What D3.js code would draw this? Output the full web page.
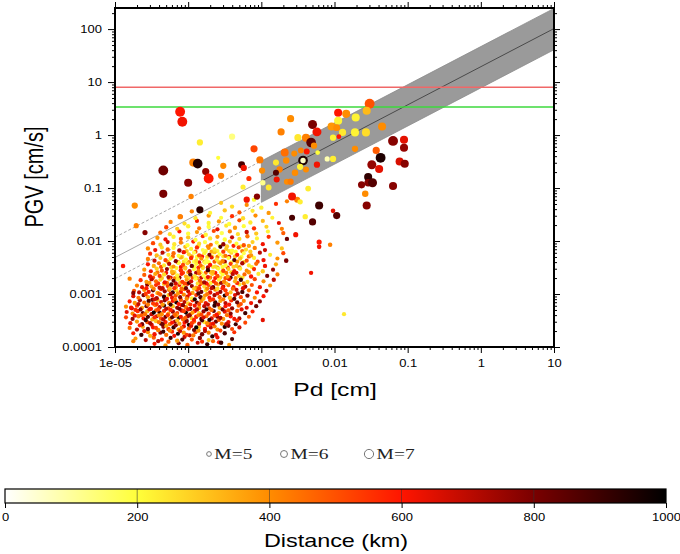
<!DOCTYPE html>
<html>
<head>
<meta charset="utf-8">
<script src="https://cdn.jsdelivr.net/npm/d3@7"></script>
<style>
  body { margin: 0; background: #fff; }
  svg { display: block; }
</style>
</head>
<body>
<script>
// Axis ticks
var pdTicks = [1e-5, 1e-4, 1e-3, 1e-2, 1e-1, 1, 10];
var pdTickLabels = ["1e-05", "0.0001", "0.001", "0.01", "0.1", "1", "10"];
var pgvTicks = [1e-4, 1e-3, 1e-2, 1e-1, 1, 10, 100];
var pgvTickLabels = ["0.0001", "0.001", "0.01", "0.1", "1", "10", "100"];
var distTicks = [0, 200, 400, 600, 800, 1000];
var magLegend = [5, 6, 7];

// log10(PGV) = fitA + fitB * log10(Pd), band in log units
var fitA = 1.29, fitB = 0.72, bandUp = 0.38, bandDown = 0.40;
var fitFrom = 1e-5, bandFrom = 1e-3, fitTo = 10;
// alert levels of PGV (cm/s): red, green
var thresholdValues = [8.0, 3.4];

// events: [log10 Pd, log10 PGV, distance km, magnitude]
var cloudLow = [
  [-4.46,-3.94,580,4.4],[-4.31,-3.97,380,4.6],[-4.13,-3.93,780,4.4],[-4.01,-3.96,480,4.7],[-3.87,-3.92,680,4.3],[-3.74,-3.95,900,4.5],[-3.58,-3.91,600,4.4],[-3.44,-3.96,380,4.3],[-3.55,-3.92,900,4.8],
  [-4.72,-3.84,380,4.3],[-4.58,-3.87,700,4.5],[-4.47,-3.82,480,4.6],[-4.36,-3.86,580,4.4],[-4.24,-3.83,900,4.5],[-4.15,-3.88,380,4.7],[-4.05,-3.81,680,4.4],[-3.95,-3.86,500,4.5],[-3.84,-3.83,780,4.6],[-3.72,-3.87,300,4.3],[-3.6,-3.82,620,4.5],[-3.4,-3.85,880,4.4],
  [-4.75,-3.74,580,4.4],[-4.64,-3.77,900,4.6],[-4.55,-3.72,400,4.5],[-4.46,-3.76,620,4.7],[-4.38,-3.73,780,4.4],[-4.3,-3.77,450,4.6],[-4.22,-3.71,560,4.5],[-4.14,-3.75,950,4.4],[-4.06,-3.73,380,4.6],[-3.98,-3.78,700,4.5],[-3.9,-3.72,520,4.4],[-3.81,-3.76,820,4.7],[-3.72,-3.73,420,4.4],[-3.62,-3.77,640,4.5],[-3.5,-3.74,880,4.6],[-3.37,-3.72,560,4.3],
  [-4.8,-3.64,450,4.4],[-4.7,-3.67,700,4.5],[-4.62,-3.62,350,4.4],[-4.55,-3.66,850,4.6],[-4.48,-3.63,600,4.5],[-4.41,-3.68,420,4.7],[-4.34,-3.62,760,4.4],[-4.27,-3.66,540,4.6],[-4.2,-3.63,920,4.5],[-4.13,-3.67,380,4.4],[-4.06,-3.61,640,4.6],[-3.99,-3.65,480,4.5],[-3.92,-3.68,820,4.4],[-3.85,-3.62,280,4.5],[-3.77,-3.66,600,4.7],[-3.69,-3.63,720,4.4],[-3.6,-3.67,400,4.5],[-3.5,-3.62,950,4.6],[-3.4,-3.66,520,4.4],[-3.3,-3.63,680,4.5],
  [-4.79,-3.55,620,4.5],[-4.7,-3.52,380,4.4],[-4.63,-3.57,800,4.6],[-4.56,-3.53,500,4.4],[-4.5,-3.58,660,4.5],[-4.44,-3.51,300,4.6],[-4.37,-3.56,900,4.4],[-4.31,-3.53,580,4.7],[-4.25,-3.57,440,4.5],[-4.18,-3.52,740,4.4],[-4.12,-3.56,360,4.6],[-4.05,-3.54,600,4.5],[-3.99,-3.58,980,4.4],[-3.92,-3.52,460,4.6],[-3.85,-3.56,700,4.5],[-3.78,-3.53,240,4.4],[-3.7,-3.57,560,4.6],[-3.62,-3.52,820,4.5],[-3.54,-3.56,400,4.4],[-3.45,-3.53,640,4.7],[-3.35,-3.57,900,4.4],[-3.22,-3.54,520,4.3],
  [-4.85,-3.44,520,4.4],[-4.76,-3.47,760,4.5],[-4.68,-3.42,420,4.6],[-4.61,-3.46,600,4.4],[-4.55,-3.43,880,4.5],[-4.49,-3.48,340,4.6],[-4.43,-3.42,680,4.5],[-4.37,-3.46,500,4.7],[-4.31,-3.43,820,4.4],[-4.25,-3.47,400,4.5],[-4.19,-3.41,620,4.6],[-4.13,-3.45,940,4.4],[-4.07,-3.48,460,4.5],[-4.01,-3.42,720,4.6],[-3.95,-3.46,300,4.4],[-3.89,-3.43,580,4.7],[-3.82,-3.47,860,4.5],[-3.75,-3.42,440,4.4],[-3.68,-3.46,660,4.6],[-3.6,-3.43,780,4.5],[-3.52,-3.47,380,4.4],[-3.42,-3.42,600,4.6],[-3.3,-3.46,720,4.4],[-3.17,-3.43,480,4.3],
  [-4.84,-3.34,640,4.4],[-4.76,-3.37,400,4.5],[-4.69,-3.32,560,4.6],[-4.62,-3.36,820,4.4],[-4.56,-3.33,320,4.5],[-4.5,-3.38,700,4.7],[-4.44,-3.31,480,4.4],[-4.39,-3.35,900,4.6],[-4.33,-3.32,560,4.5],[-4.27,-3.37,380,4.4],[-4.21,-3.33,740,4.6],[-4.15,-3.36,520,4.5],[-4.09,-3.31,640,4.7],[-4.03,-3.35,960,4.4],[-3.97,-3.38,420,4.5],[-3.91,-3.32,600,4.6],[-3.85,-3.36,260,4.4],[-3.79,-3.33,760,4.5],[-3.72,-3.37,540,4.6],[-3.65,-3.32,860,4.4],[-3.58,-3.36,400,4.5],[-3.5,-3.33,640,4.7],[-3.42,-3.37,780,4.4],[-3.33,-3.32,480,4.5],[-3.22,-3.36,900,4.6],[-3.12,-3.33,580,4.4],
  [-4.85,-3.24,400,4.5],[-4.77,-3.27,700,4.4],[-4.7,-3.22,520,4.6],[-4.63,-3.26,360,4.5],[-4.57,-3.23,800,4.4],[-4.51,-3.28,600,4.7],[-4.45,-3.21,420,4.5],[-4.39,-3.25,680,4.6],[-4.33,-3.22,940,4.4],[-4.27,-3.27,500,4.5],[-4.21,-3.23,300,4.6],[-4.15,-3.26,760,4.5],[-4.09,-3.21,580,4.4],[-4.03,-3.25,440,4.7],[-3.97,-3.28,840,4.5],[-3.91,-3.22,620,4.4],[-3.85,-3.26,380,4.6],[-3.78,-3.23,700,4.5],[-3.71,-3.27,500,4.4],[-3.64,-3.22,920,4.6],[-3.57,-3.26,340,4.5],[-3.49,-3.23,600,4.4],[-3.4,-3.27,760,4.6],[-3.31,-3.22,460,4.5],[-3.2,-3.26,640,4.4],[-3.07,-3.23,820,4.5],
  [-4.8,-3.14,580,4.4],[-4.73,-3.17,380,4.6],[-4.66,-3.12,720,4.5],[-4.6,-3.16,460,4.4],[-4.54,-3.13,880,4.6],[-4.48,-3.18,540,4.5],[-4.42,-3.11,320,4.7],[-4.37,-3.15,660,4.4],[-4.32,-3.12,780,4.5],[-4.26,-3.17,420,4.6],[-4.21,-3.13,600,4.4],[-4.16,-3.16,960,4.5],[-4.1,-3.11,480,4.6],[-4.05,-3.15,700,4.4],[-4.0,-3.18,280,4.7],[-3.94,-3.12,560,4.5],[-3.88,-3.16,820,4.4],[-3.82,-3.13,400,4.6],[-3.76,-3.17,640,4.5],[-3.7,-3.12,500,4.4],[-3.63,-3.16,900,4.6],[-3.56,-3.13,360,4.5],[-3.49,-3.17,700,4.4],[-3.41,-3.12,560,4.6],[-3.33,-3.16,820,4.5],[-3.24,-3.13,420,4.4],[-3.14,-3.17,620,4.5],[-3.02,-3.14,760,4.4],
  [-4.75,-3.04,660,4.5],[-4.68,-3.07,440,4.4],[-4.61,-3.02,800,4.6],[-4.55,-3.06,360,4.5],[-4.49,-3.03,580,4.4],[-4.43,-3.08,720,4.6],[-4.38,-3.01,480,4.5],[-4.33,-3.05,920,4.7],[-4.27,-3.02,300,4.4],[-4.22,-3.07,620,4.5],[-4.17,-3.03,500,4.6],[-4.11,-3.06,780,4.4],[-4.06,-3.01,400,4.5],[-4.01,-3.05,660,4.6],[-3.95,-3.08,220,4.4],[-3.89,-3.02,540,4.5],[-3.83,-3.06,860,4.7],[-3.77,-3.03,380,4.4],[-3.71,-3.07,600,4.5],[-3.64,-3.02,740,4.6],[-3.57,-3.06,460,4.4],[-3.5,-3.03,940,4.5],[-3.43,-3.07,320,4.6],[-3.36,-3.02,640,4.4],[-3.28,-3.06,520,4.5],[-3.19,-3.03,800,4.6],[-3.09,-3.07,400,4.4],[-2.97,-3.04,600,4.5],
  [-4.74,-2.94,500,4.5],[-4.67,-2.97,700,4.4],[-4.6,-2.92,400,4.6],[-4.54,-2.96,620,4.5],[-4.48,-2.93,860,4.4],[-4.42,-2.98,340,4.6],[-4.37,-2.91,560,4.5],[-4.32,-2.95,740,4.4],[-4.26,-2.92,440,4.7],[-4.21,-2.97,900,4.5],[-4.16,-2.93,260,4.4],[-4.1,-2.96,600,4.6],[-4.05,-2.91,480,4.5],[-4.0,-2.95,700,4.4],[-3.94,-2.98,360,4.6],[-3.88,-2.92,560,4.5],[-3.82,-2.96,820,4.4],[-3.76,-2.93,240,4.5],[-3.7,-2.97,640,4.7],[-3.63,-2.92,420,4.4],[-3.56,-2.96,760,4.5],[-3.49,-2.93,540,4.6],[-3.42,-2.97,300,4.4],[-3.34,-2.92,680,4.5],[-3.26,-2.96,880,4.6],[-3.17,-2.93,460,4.4],[-3.06,-2.97,600,4.5],[-2.93,-2.94,720,4.4],
  [-4.7,-2.84,420,4.5],[-4.63,-2.87,640,4.4],[-4.56,-2.82,780,4.6],[-4.5,-2.86,360,4.5],[-4.44,-2.83,560,4.4],[-4.39,-2.88,700,4.6],[-4.33,-2.81,300,4.5],[-4.28,-2.85,520,4.4],[-4.23,-2.82,880,4.7],[-4.17,-2.87,440,4.5],[-4.12,-2.83,620,4.4],[-4.06,-2.86,220,4.6],[-4.01,-2.81,560,4.5],[-3.95,-2.85,760,4.4],[-3.89,-2.88,380,4.6],[-3.84,-2.82,600,4.5],[-3.78,-2.86,260,4.4],[-3.72,-2.83,500,4.5],[-3.66,-2.87,840,4.7],[-3.59,-2.82,320,4.4],[-3.52,-2.86,660,4.5],[-3.45,-2.83,420,4.6],[-3.38,-2.87,580,4.4],[-3.3,-2.82,240,4.5],[-3.22,-2.86,720,4.6],[-3.13,-2.83,500,4.4],[-3.02,-2.87,620,4.5],[-2.88,-2.84,380,4.4]
];

var cloudHigh = [
  [-4.65,-2.74,560,4.5],[-4.57,-2.77,380,4.4],[-4.5,-2.72,700,4.6],[-4.44,-2.76,460,4.5],[-4.38,-2.73,280,4.4],[-4.32,-2.78,620,4.6],[-4.26,-2.71,400,4.5],[-4.2,-2.75,820,4.4],[-4.14,-2.72,240,4.7],[-4.08,-2.77,540,4.5],[-4.02,-2.73,360,4.4],[-3.96,-2.76,660,4.6],[-3.9,-2.71,200,4.5],[-3.84,-2.75,480,4.4],[-3.78,-2.78,740,4.6],[-3.72,-2.72,300,4.5],[-3.65,-2.76,560,4.4],[-3.58,-2.73,220,4.5],[-3.51,-2.77,420,4.7],[-3.44,-2.72,640,4.4],[-3.36,-2.76,340,4.5],[-3.28,-2.73,900,4.6],[-3.19,-2.77,260,4.4],[-3.09,-2.72,520,4.5],[-2.97,-2.76,400,4.4],[-2.83,-2.73,700,4.6],
  [-4.6,-2.64,480,4.5],[-4.52,-2.67,640,4.6],[-4.45,-2.62,360,4.4],[-4.39,-2.66,540,4.5],[-4.33,-2.63,260,4.6],[-4.27,-2.68,720,4.4],[-4.21,-2.61,420,4.5],[-4.15,-2.65,220,4.7],[-4.09,-2.62,580,4.4],[-4.03,-2.67,320,4.5],[-3.97,-2.63,860,4.6],[-3.91,-2.66,240,4.4],[-3.85,-2.61,460,4.5],[-3.79,-2.65,180,4.6],[-3.73,-2.68,620,4.4],[-3.67,-2.62,300,4.5],[-3.6,-2.66,500,4.7],[-3.53,-2.63,200,4.4],[-3.46,-2.67,380,4.5],[-3.39,-2.62,700,4.6],[-3.31,-2.66,280,4.4],[-3.23,-2.63,460,4.5],[-3.14,-2.67,600,4.6],[-3.04,-2.62,240,4.4],[-2.92,-2.66,800,4.5],[-2.78,-2.63,420,4.4],
  [-4.6,-2.54,380,4.5],[-4.51,-2.57,620,4.4],[-4.43,-2.52,280,4.6],[-4.36,-2.56,500,4.5],[-4.29,-2.53,760,4.4],[-4.22,-2.58,340,4.6],[-4.16,-2.51,220,4.5],[-4.1,-2.55,560,4.7],[-4.04,-2.52,300,4.4],[-3.98,-2.57,680,4.5],[-3.92,-2.53,200,4.6],[-3.86,-2.56,420,4.4],[-3.8,-2.51,260,4.5],[-3.73,-2.55,900,4.6],[-3.66,-2.58,340,4.4],[-3.59,-2.52,220,4.5],[-3.52,-2.56,520,4.7],[-3.45,-2.53,300,4.4],[-3.37,-2.57,640,4.5],[-3.29,-2.52,240,4.6],[-3.2,-2.56,400,4.4],[-3.1,-2.53,560,4.5],[-2.98,-2.57,300,4.6],[-2.84,-2.54,760,4.4],
  [-4.55,-2.44,600,4.5],[-4.47,-2.47,340,4.6],[-4.4,-2.42,460,4.4],[-4.33,-2.46,240,4.5],[-4.26,-2.43,700,4.6],[-4.2,-2.48,380,4.4],[-4.13,-2.41,200,4.7],[-4.07,-2.45,520,4.5],[-4.01,-2.42,280,4.4],[-3.95,-2.47,820,4.6],[-3.89,-2.43,220,4.5],[-3.83,-2.46,440,4.4],[-3.77,-2.41,180,4.5],[-3.7,-2.45,600,4.6],[-3.63,-2.48,260,4.4],[-3.56,-2.42,380,4.5],[-3.49,-2.46,200,4.7],[-3.42,-2.43,540,4.4],[-3.34,-2.47,300,4.5],[-3.26,-2.42,720,4.6],[-3.17,-2.46,240,4.4],[-3.07,-2.43,460,4.5],[-2.95,-2.47,620,4.6],[-2.8,-2.44,340,4.4],
  [-4.55,-2.34,420,4.6],[-4.46,-2.37,680,4.5],[-4.38,-2.32,300,4.4],[-4.31,-2.36,520,4.6],[-4.24,-2.33,220,4.5],[-4.17,-2.38,780,4.4],[-4.1,-2.31,340,4.6],[-4.03,-2.35,200,4.5],[-3.96,-2.32,560,4.7],[-3.89,-2.37,260,4.4],[-3.82,-2.33,400,4.5],[-3.75,-2.36,180,4.6],[-3.68,-2.31,640,4.4],[-3.61,-2.35,240,4.5],[-3.53,-2.38,420,4.6],[-3.45,-2.32,200,4.4],[-3.37,-2.36,860,4.5],[-3.29,-2.33,300,4.6],[-3.2,-2.37,500,4.4],[-3.1,-2.32,220,4.5],[-2.97,-2.36,620,4.6],[-2.78,-2.33,400,4.4],
  [-4.52,-2.24,560,4.5],[-4.43,-2.27,320,4.6],[-4.35,-2.22,700,4.4],[-4.27,-2.26,240,4.5],[-4.2,-2.23,460,4.6],[-4.13,-2.28,200,4.4],[-4.06,-2.21,620,4.7],[-3.99,-2.25,280,4.5],[-3.92,-2.22,180,4.4],[-3.85,-2.27,500,4.6],[-3.78,-2.23,220,4.5],[-3.71,-2.26,780,4.4],[-3.64,-2.21,300,4.6],[-3.57,-2.25,200,4.5],[-3.49,-2.28,440,4.4],[-3.41,-2.22,260,4.6],[-3.33,-2.26,600,4.5],[-3.24,-2.23,180,4.4],[-3.14,-2.27,380,4.6],[-3.02,-2.22,700,4.5],[-2.88,-2.26,240,4.4],[-2.7,-2.23,520,4.5],
  [-4.55,-2.14,400,4.6],[-4.45,-2.17,620,4.5],[-4.36,-2.12,260,4.4],[-4.28,-2.16,480,4.6],[-4.2,-2.13,200,4.5],[-4.12,-2.18,740,4.7],[-4.04,-2.11,320,4.4],[-3.96,-2.15,220,4.5],[-3.88,-2.12,560,4.6],[-3.8,-2.17,180,4.4],[-3.72,-2.13,400,4.5],[-3.64,-2.16,240,4.6],[-3.56,-2.11,880,4.4],[-3.48,-2.15,300,4.5],[-3.4,-2.18,200,4.6],[-3.31,-2.12,520,4.4],[-3.21,-2.16,260,4.5],[-3.09,-2.13,420,4.6],[-2.95,-2.17,680,4.5],[-2.72,-2.14,300,4.4],
  [-4.48,-2.04,520,4.6],[-4.38,-2.07,300,4.5],[-4.28,-2.02,680,4.4],[-4.19,-2.06,240,4.6],[-4.1,-2.03,420,4.5],[-4.01,-2.08,200,4.7],[-3.93,-2.01,580,4.4],[-3.85,-2.05,260,4.5],[-3.77,-2.02,180,4.6],[-3.69,-2.07,460,4.4],[-3.61,-2.03,220,4.5],[-3.52,-2.06,760,4.6],[-3.43,-2.01,320,4.4],[-3.34,-2.05,200,4.5],[-3.24,-2.08,500,4.6],[-3.12,-2.02,280,4.4],[-2.98,-2.06,620,4.5],[-2.78,-2.03,380,4.6],
  [-4.42,-1.94,380,4.6],[-4.31,-1.97,620,4.5],[-4.2,-1.92,220,4.7],[-4.1,-1.96,460,4.4],[-4.0,-1.93,300,4.6],[-3.9,-1.98,200,4.5],[-3.8,-1.91,560,4.4],[-3.7,-1.95,240,4.6],[-3.6,-1.92,380,4.5],[-3.5,-1.97,200,4.7],[-3.4,-1.93,680,4.4],[-3.3,-1.96,260,4.5],[-3.19,-1.91,440,4.6],[-3.06,-1.95,220,4.4],[-2.9,-1.92,560,4.5],[-2.65,-1.96,820,4.6],
  [-4.38,-1.84,460,4.6],[-4.25,-1.87,260,4.5],[-4.12,-1.82,600,4.4],[-4.0,-1.86,200,4.6],[-3.88,-1.83,380,4.5],[-3.76,-1.88,220,4.7],[-3.65,-1.81,520,4.4],[-3.54,-1.85,180,4.6],[-3.43,-1.82,420,4.5],[-3.32,-1.87,260,4.4],[-3.2,-1.83,680,4.6],[-3.07,-1.86,300,4.5],[-2.91,-1.82,220,4.4],[-2.7,-1.85,480,4.6],
  [-4.3,-1.74,520,4.6],[-4.15,-1.77,300,4.5],[-4.0,-1.72,220,4.7],[-3.85,-1.76,440,4.4],[-3.72,-1.73,200,4.6],[-3.6,-1.78,640,4.5],[-3.48,-1.71,240,4.4],[-3.36,-1.75,380,4.6],[-3.24,-1.72,200,4.5],[-3.1,-1.76,560,4.6],[-2.93,-1.73,280,4.4],[-2.72,-1.77,420,4.5],
  [-4.24,-1.64,420,4.6],[-4.05,-1.67,260,4.5],[-3.88,-1.62,580,4.4],[-3.72,-1.66,220,4.6],[-3.58,-1.63,380,4.5],[-3.44,-1.68,200,4.7],[-3.3,-1.61,500,4.4],[-3.15,-1.65,240,4.6],[-2.98,-1.62,320,4.5],[-2.76,-1.66,640,4.4],
  [-4.1,-1.54,480,4.6],[-3.9,-1.57,240,4.5],[-3.72,-1.52,380,4.6],[-3.55,-1.56,200,4.4],[-3.4,-1.53,560,4.5],[-3.25,-1.57,260,4.6],[-3.08,-1.52,400,4.5],[-2.85,-1.56,220,4.4],
  [-3.95,-1.44,420,4.6],[-3.7,-1.47,220,4.5],[-3.5,-1.42,300,4.6],[-3.3,-1.46,480,4.4],[-3.12,-1.43,240,4.5],[-2.9,-1.47,380,4.6],
  [-3.4,-1.35,260,4.6],[-3.2,-1.32,400,4.5],[-3.0,-1.37,220,4.7],[-2.8,-1.3,560,4.5],[-3.55,-1.28,300,4.4],[-3.1,-1.22,200,4.6],[-2.65,-1.25,420,4.5]
];

// second pass over the dense core of the cloud
var cloudCore = [
  [-4.41,-3.89,720,4.5],[-4.27,-3.9,480,4.6],[-4.19,-3.79,610,4.4],[-4.08,-3.86,850,4.5],[-3.93,-3.78,430,4.6],[-3.81,-3.9,560,4.4],[-3.67,-3.8,930,4.5],[-3.66,-3.89,470,4.4],[-4.52,-3.79,330,4.5],[-4.34,-3.71,900,4.4],
  [-4.25,-3.69,410,4.6],[-4.11,-3.7,680,4.5],[-4.02,-3.77,540,4.4],[-3.86,-3.69,380,4.6],[-3.77,-3.7,710,4.5],[-3.56,-3.69,530,4.4],[-4.6,-3.7,640,4.5],[-4.44,-3.64,520,4.4],[-4.3,-3.6,350,4.6],[-4.17,-3.59,780,4.5],
  [-4.09,-3.64,460,4.4],[-3.96,-3.6,640,4.6],[-3.89,-3.63,990,4.5],[-3.73,-3.59,560,4.4],[-3.64,-3.61,420,4.6],[-3.45,-3.6,790,4.5],[-4.66,-3.59,580,4.5],[-4.52,-3.55,740,4.4],[-4.4,-3.53,440,4.6],[-4.22,-3.54,600,4.5],
  [-4.15,-3.5,320,4.4],[-4.02,-3.51,770,4.6],[-3.95,-3.55,540,4.5],[-3.81,-3.5,880,4.4],[-3.74,-3.55,400,4.6],[-3.66,-3.56,630,4.5],[-3.58,-3.49,480,4.4],[-3.48,-3.57,700,4.5],[-3.33,-3.5,560,4.4],[-4.35,-3.57,820,4.5],
  [-4.73,-3.41,630,4.5],[-4.64,-3.4,480,4.4],[-4.58,-3.49,910,4.6],[-4.46,-3.44,570,4.5],[-4.4,-3.4,400,4.4],[-4.34,-3.48,690,4.6],[-4.28,-3.4,540,4.5],[-4.22,-3.44,850,4.4],[-4.16,-3.4,360,4.6],[-4.1,-3.43,610,4.5],
  [-4.04,-3.45,480,4.4],[-3.98,-3.4,750,4.6],[-3.92,-3.49,580,4.5],[-3.86,-3.4,420,4.4],[-3.79,-3.44,660,4.6],[-3.71,-3.49,930,4.5],[-3.64,-3.41,510,4.4],[-3.56,-3.45,730,4.6],[-3.47,-3.4,440,4.5],[-3.37,-3.47,620,4.4],
  [-4.72,-3.3,570,4.5],[-4.65,-3.29,780,4.4],[-4.59,-3.38,450,4.6],[-4.53,-3.29,620,4.5],[-4.47,-3.35,980,4.4],[-4.41,-3.29,520,4.6],[-4.36,-3.38,400,4.5],[-4.3,-3.28,700,4.4],[-4.24,-3.3,580,4.6],[-4.18,-3.39,460,4.5],
  [-4.12,-3.28,820,4.4],[-4.06,-3.32,540,4.6],[-4.0,-3.29,640,4.5],[-3.94,-3.35,380,4.4],[-3.88,-3.29,700,4.6],[-3.82,-3.39,520,4.5],[-3.75,-3.29,900,4.4],[-3.68,-3.3,460,4.6],[-3.61,-3.39,600,4.5],[-3.53,-3.29,800,4.4],
  [-3.45,-3.31,500,4.6],[-3.27,-3.29,640,4.5],[-4.68,-3.19,690,4.4],[-4.55,-3.2,430,4.6],[-4.49,-3.11,800,4.5],[-4.43,-3.19,560,4.4],[-4.35,-3.2,380,4.6],[-4.29,-3.09,640,4.5],[-4.24,-3.2,900,4.4],[-4.18,-3.1,460,4.6],
  [-4.13,-3.19,600,4.5],[-4.07,-3.21,780,4.4],[-4.02,-3.09,420,4.6],[-3.97,-3.2,560,4.5],[-3.91,-3.1,950,4.4],[-3.85,-3.19,520,4.6],[-3.79,-3.09,340,4.5],[-3.73,-3.2,680,4.4],[-3.66,-3.1,560,4.6],[-3.59,-3.2,760,4.5],
  [-3.52,-3.1,430,4.4],[-3.44,-3.2,600,4.6],[-3.37,-3.09,860,4.5],[-3.28,-3.19,500,4.4],[-4.58,-3.0,540,4.6],[-4.46,-3.1,680,4.5],[-4.4,-2.99,470,4.4],[-4.24,-3.0,720,4.6],[-4.14,-2.99,380,4.5],[-3.98,-3.0,600,4.4],
  [-3.86,-2.99,870,4.6],[-3.74,-3.0,440,4.5],[-3.6,-2.99,640,4.4],[-3.47,-3.0,520,4.6],[-3.32,-2.99,760,4.5],
  [-4.57,-2.89,600,4.5],[-4.47,-2.9,420,4.4],[-4.35,-2.89,700,4.6],[-4.25,-2.9,320,4.5],[-4.19,-2.89,560,4.4],[-4.09,-2.9,460,4.6],[-4.03,-2.89,820,4.5],[-3.92,-2.9,300,4.4],[-3.85,-2.89,540,4.6],[-3.74,-2.9,420,4.5],
  [-3.68,-2.89,700,4.4],[-3.6,-2.9,260,4.6],[-3.53,-2.89,580,4.5],[-3.39,-2.9,460,4.4],[-3.25,-2.89,640,4.6],[-4.53,-2.79,380,4.5],[-4.41,-2.8,560,4.4],[-4.29,-2.79,460,4.6],[-4.17,-2.8,660,4.5],[-4.11,-2.79,300,4.4],
  [-4.05,-2.8,520,4.6],[-3.99,-2.79,880,4.5],[-3.87,-2.8,260,4.4],[-3.81,-2.79,420,4.6],[-3.75,-2.8,600,4.5],[-3.69,-2.79,220,4.4],[-3.62,-2.8,500,4.6],[-3.55,-2.79,740,4.5],[-3.48,-2.8,320,4.4],[-3.33,-2.79,560,4.6],
  [-3.24,-2.8,420,4.5],[-4.48,-2.69,520,4.4],[-4.36,-2.7,300,4.6],[-4.24,-2.69,640,4.5],[-4.18,-2.7,420,4.4],[-4.12,-2.69,760,4.6],[-4.0,-2.7,260,4.5],[-3.94,-2.69,500,4.4],[-3.88,-2.7,360,4.6],[-3.82,-2.69,680,4.5],
  [-3.76,-2.7,240,4.4],[-3.7,-2.69,440,4.6],[-3.63,-2.7,600,4.5],[-3.56,-2.69,280,4.4],[-3.49,-2.7,520,4.6],[-3.42,-2.69,860,4.5],[-3.35,-2.7,380,4.4],[-3.26,-2.69,240,4.6],[-4.42,-2.59,440,4.5],[-4.3,-2.6,620,4.4],
  [-4.19,-2.59,280,4.6],[-4.07,-2.6,520,4.5],[-4.0,-2.59,340,4.4],[-3.89,-2.6,720,4.6],[-3.83,-2.59,220,4.5],[-3.76,-2.6,480,4.4],[-3.69,-2.59,320,4.6],[-3.63,-2.6,600,4.5],[-3.55,-2.59,200,4.4],[-3.48,-2.6,440,4.6],
  [-3.41,-2.59,300,4.5],[-3.34,-2.6,660,4.4],[-3.17,-2.59,380,4.6],
  [-4.37,-2.49,500,4.5],[-4.23,-2.5,260,4.6],[-4.1,-2.49,620,4.4],[-4.04,-2.5,340,4.5],[-3.92,-2.49,200,4.6],[-3.86,-2.5,560,4.4],[-3.8,-2.49,300,4.5],[-3.73,-2.5,720,4.6],[-3.66,-2.49,240,4.4],[-3.6,-2.5,420,4.5],
  [-3.53,-2.49,200,4.6],[-3.46,-2.5,580,4.4],[-3.38,-2.49,280,4.5],[-3.3,-2.5,460,4.6],[-3.13,-2.49,240,4.4],[-4.28,-2.39,340,4.5],[-4.14,-2.4,560,4.6],[-4.06,-2.39,240,4.4],[-3.99,-2.4,420,4.5],[-3.92,-2.39,180,4.6],
  [-3.85,-2.4,640,4.4],[-3.78,-2.39,300,4.5],[-3.72,-2.4,200,4.6],[-3.64,-2.39,480,4.4],[-3.58,-2.4,260,4.5],[-3.5,-2.39,740,4.6],[-3.41,-2.4,220,4.4],[-3.33,-2.39,400,4.5],[-3.24,-2.4,280,4.6],[-3.05,-2.39,520,4.4],
  [-4.21,-2.29,460,4.6],[-4.08,-2.3,240,4.5],[-3.95,-2.29,380,4.4],[-3.88,-2.3,200,4.6],[-3.81,-2.29,600,4.5],[-3.74,-2.3,260,4.4],[-3.67,-2.29,180,4.6],[-3.6,-2.3,420,4.5],[-3.52,-2.29,240,4.4],[-3.44,-2.3,660,4.6],
  [-3.36,-2.29,300,4.5],[-3.27,-2.3,200,4.4],[-3.17,-2.29,480,4.6],[-4.02,-2.19,300,4.5],[-3.9,-2.2,480,4.4],[-3.76,-2.19,200,4.6],[-3.68,-2.2,340,4.5],[-3.6,-2.19,220,4.4],[-3.52,-2.2,540,4.6],[-3.44,-2.19,260,4.5],
  [-3.35,-2.2,200,4.4],[-3.26,-2.19,420,4.6],[-3.15,-2.2,280,4.5],[-3.86,-2.09,240,4.6],[-3.73,-2.1,400,4.5],[-3.57,-2.09,200,4.4],[-3.47,-2.1,300,4.6],[-3.38,-2.09,580,4.5],[-3.28,-2.1,220,4.4],[-3.17,-2.09,360,4.6]
];

var scattered = [
  [-4.11,0.44,600,7.3],[-4.08,0.25,620,7.3],[-3.84,-0.14,230,5.7],[-3.4,-0.03,130,5.7],[-3.1,-0.26,520,6.1],
  [-4.34,-0.67,820,7.3],[-3.93,-0.52,420,6.5],[-3.87,-0.54,940,7.2],[-3.76,-0.69,760,6.1],[-3.72,-0.82,600,7.3],
  [-4.0,-0.9,780,6.5],[-3.52,-0.58,400,5.7],[-3.55,-0.77,420,5.7],[-4.34,-1.11,800,6.5],[-4.73,-1.33,400,5.7],
  [-3.96,-1.16,420,5.3],[-3.27,-0.56,880,6.0],[-3.24,-0.62,620,5.7],[-3.17,-0.82,560,5.2],[-3.02,-0.47,430,6.1],
  [-2.99,-0.67,400,5.7],[-3.84,-1.41,930,6.1],[-3.25,-0.98,230,5.2],[-4.11,-1.54,420,5.2],[-3.59,-0.43,200,4.4],
  [-1.52,0.59,500,7.3],[-1.95,0.42,600,6.5],[-1.84,0.40,400,6.5],[-1.56,0.46,320,6.5],[-2.6,0.31,400,6.1],
  [-2.3,0.2,800,6.9],[-2.24,0.06,620,6.9],[-1.95,0.27,220,6.5],[-1.71,0.33,220,6.5],[-2.04,0.16,380,6.5],
  [-1.97,0.14,400,6.0],[-1.89,0.05,240,6.1],[-1.72,0.05,220,6.5],[-1.57,0.05,260,6.5],[-2.02,-0.05,220,5.7],
  [-1.94,-0.03,600,5.0],[-1.35,0.16,400,6.5],[-2.73,0.06,420,6.1],[-2.5,-0.05,240,6.1],[-2.39,-0.05,420,6.5],
  [-2.32,-0.14,850,7.2],[-2.28,-0.2,400,5.7],[-2.23,-0.33,200,5.0],[-2.38,-0.31,600,5.6],[-2.46,-0.29,420,5.5],
  [-2.55,-0.35,400,5.6],[-2.68,-0.33,450,6.4],[-2.43,-0.48,950,7.2],[-2.43,-0.48,60,5.3],[-2.47,-0.6,220,5.7],
  [-2.39,-0.65,400,5.6],[-2.24,-0.56,620,5.7],[-2.1,-0.45,80,5.2],[-2.02,-0.45,230,5.7],[-1.72,-0.26,400,5.7],
  [-1.43,-0.29,480,6.1],[-1.2,-0.11,780,7.3],[-1.05,-0.09,640,6.5],[-1.05,-0.24,760,6.5],[-1.37,-0.43,950,7.3],
  [-1.49,-0.56,760,6.9],[-1.39,-0.64,640,6.5],[-1.11,-0.5,660,6.5],[-1.04,-0.54,780,6.5],[-1.54,-0.79,920,6.5],
  [-1.63,-0.94,780,6.1],[-1.54,-0.9,780,6.3],[-1.48,-0.9,860,6.9],[-1.2,-0.96,780,6.5],[-1.58,-1.11,400,5.8],
  [-1.56,-1.33,780,6.5],[-2.02,-1.43,640,4.9],[-1.97,-1.52,860,6.1],[-2.06,-2.07,420,4.8],[-1.87,-3.38,240,4.5],
  [-2.21,-2.02,600,5.2],[-2.21,-2.11,620,4.9],[-2.32,-2.6,620,4.6],[-2.3,-1.64,860,6.1],[-2.21,-1.33,900,6.5],
  [-2.98,-3.49,640,4.6],[-2.66,-2.37,800,4.8],[-2.53,-1.88,620,5.2],[-2.58,-1.56,880,5.6],[-4.71,-1.71,420,5.2],
  [-4.89,-2.47,600,4.9],[-4.59,-1.84,780,5.2],[-4.8,-2.71,420,4.6],[-4.75,-2.98,780,4.6],[-4.78,-3.26,620,4.6],
  [-4.75,-3.89,420,4.5],[-3.06,-1.16,780,5.7],[-3.2,-1.22,620,5.7],[-2.98,-0.9,120,5.3],[-2.9,-0.99,240,5.5],
  [-2.66,-0.48,400,5.8],[-2.8,-0.52,240,5.6],[-2.75,-0.65,420,5.7],[-2.8,-0.71,860,5.6],[-2.79,-0.84,620,5.6],
  [-2.65,-0.88,400,5.6],[-2.6,-0.88,430,5.7],[-2.54,-0.71,400,5.8],[-2.36,-1.01,230,5.5],[-2.51,-1.22,420,5.6],
  [-2.58,-1.16,620,6.4],[-2.4,-1.54,230,5.3],[-2.47,-1.26,230,5.3]
];

var W = 680, H = 554;
var L = 115, R = 554, T = 8, B = 347;
var sans = "'Liberation Sans', Arial, Helvetica, sans-serif";
var serif = "'Liberation Serif', 'Times New Roman', serif";
var stretch = 1.3; // the original figure is stretched horizontally

var x = d3.scaleLog().domain([1e-5, 10]).range([L, R]);
var y = d3.scaleLog().domain([1e-4, 250]).range([B, T]);
var color = d3.scaleLinear()
    .domain(distTicks)
    .range(["#ffffff", "#ffff3a", "#ff8c00", "#ff1500", "#7a0000", "#000000"]);
var radius = d3.scaleLinear().domain([4, 5, 7]).range([1.9, 2.35, 4.6]);

function minorTicks(lo, hi, max) {
    var out = [];
    for (var e = lo; e < hi; e++) {
        for (var k = 2; k <= 9; k++) {
            var v = k * Math.pow(10, e);
            if (v <= max) out.push(v);
        }
    }
    return out;
}

var svg = d3.select("body").append("svg")
    .attr("width", W)
    .attr("height", H);

// clip for plot area
svg.append("defs").append("clipPath").attr("id", "plotclip")
    .append("rect").attr("x", L).attr("y", T).attr("width", R - L).attr("height", B - T);

var plot = svg.append("g").attr("clip-path", "url(#plotclip)");

function fit(pd, off) {
    return Math.pow(10, fitA + fitB * Math.log10(pd) + off);
}

// gray band
var band = [[bandFrom, fit(bandFrom, bandUp)], [fitTo, fit(fitTo, bandUp)],
            [fitTo, fit(fitTo, -bandDown)], [bandFrom, fit(bandFrom, -bandDown)]];
plot.append("path")
    .attr("d", d3.line().x(d => x(d[0])).y(d => y(d[1]))(band) + "Z")
    .attr("fill", "#9a9a9a")
    .attr("stroke", "#8a8a8a")
    .attr("stroke-width", 0.8);

// fitted line and dashed band edges outside the band
var lineGen = d3.line().x(d => x(d[0])).y(d => y(d[1]));
plot.append("path")
    .attr("d", lineGen([[fitFrom, fit(fitFrom, 0)], [bandFrom, fit(bandFrom, 0)]]))
    .attr("stroke", "#a8a8a8").attr("stroke-width", 1).attr("fill", "none");
plot.append("path")
    .attr("d", lineGen([[bandFrom, fit(bandFrom, 0)], [fitTo, fit(fitTo, 0)]]))
    .attr("stroke", "#4a4a4a").attr("stroke-width", 1).attr("fill", "none");
[bandUp, -bandDown].forEach(function(off) {
    plot.append("path")
        .attr("d", lineGen([[fitFrom, fit(fitFrom, off)], [bandFrom, fit(bandFrom, off)]]))
        .attr("stroke", "#a8a8a8").attr("stroke-width", 1)
        .attr("stroke-dasharray", "3,2").attr("fill", "none");
});

// alert lines
var thresholdColors = ["#f06868", "#3cd83c"];
plot.selectAll("line.thr")
    .data(thresholdValues)
    .enter()
    .append("line")
    .attr("class", "thr")
    .attr("x1", L).attr("x2", R)
    .attr("y1", d => y(d)).attr("y2", d => y(d))
    .attr("stroke", (d, i) => thresholdColors[i])
    .attr("stroke-width", 1.5);

// events
var events = cloudLow.concat(cloudCore, cloudHigh, scattered);
plot.selectAll("circle.ev")
    .data(events)
    .enter()
    .append("circle")
    .attr("class", "ev")
    .attr("cx", d => x(Math.pow(10, d[0])))
    .attr("cy", d => y(Math.pow(10, d[1])))
    .attr("r", d => radius(d[3]))
    .attr("fill", d => color(d[2]));

// stretched tick text
function styleTicks(g, dx) {
    g.select(".domain").remove();
    g.selectAll("line").attr("stroke", "#000");
    g.selectAll("text")
        .attr("font-family", sans)
        .attr("font-size", 10)
        .attr("fill", "#000")
        .attr("transform", "scale(" + stretch + ",1)");
    if (dx !== undefined) g.selectAll("text").attr("x", dx / stretch);
}

var xMinor = minorTicks(-5, 1, 10);
var yMinor = minorTicks(-4, 3, 250);

// bottom
svg.append("g").attr("transform", "translate(0," + B + ")")
    .call(d3.axisBottom(x).tickValues(xMinor).tickSize(3).tickFormat(""))
    .call(styleTicks);
svg.append("g").attr("transform", "translate(0," + B + ")")
    .call(d3.axisBottom(x).tickValues(pdTicks).tickSize(6).tickPadding(7)
        .tickFormat((d, i) => pdTickLabels[i]))
    .call(styleTicks);
// top
svg.append("g").attr("transform", "translate(0," + T + ")")
    .call(d3.axisTop(x).tickValues(xMinor).tickSize(3).tickFormat(""))
    .call(styleTicks);
svg.append("g").attr("transform", "translate(0," + T + ")")
    .call(d3.axisTop(x).tickValues(pdTicks).tickSize(6).tickFormat(""))
    .call(styleTicks);
// left
svg.append("g").attr("transform", "translate(" + L + ",0)")
    .call(d3.axisLeft(y).tickValues(yMinor).tickSize(3).tickFormat(""))
    .call(styleTicks);
svg.append("g").attr("transform", "translate(" + L + ",0)")
    .call(d3.axisLeft(y).tickValues(pgvTicks).tickSize(7)
        .tickFormat((d, i) => pgvTickLabels[i]))
    .call(g => styleTicks(g, -13));
// right
svg.append("g").attr("transform", "translate(" + R + ",0)")
    .call(d3.axisRight(y).tickValues(yMinor).tickSize(3).tickFormat(""))
    .call(styleTicks);
svg.append("g").attr("transform", "translate(" + R + ",0)")
    .call(d3.axisRight(y).tickValues(pgvTicks).tickSize(6).tickFormat(""))
    .call(styleTicks);

// frame
svg.append("rect")
    .attr("x", L).attr("y", T)
    .attr("width", R - L).attr("height", B - T)
    .attr("fill", "none").attr("stroke", "#000").attr("stroke-width", 2);

function label(str, tx, ty, size, family, anchor, rotate) {
    var t = "translate(" + tx + "," + ty + ") scale(" + stretch + ",1)";
    if (rotate) t += " rotate(" + rotate + ")";
    return svg.append("text")
        .attr("transform", t)
        .attr("font-family", family)
        .attr("font-size", size)
        .attr("text-anchor", anchor)
        .attr("fill", "#000")
        .text(str);
}

label("Pd [cm]", 335, 396, 19, sans, "middle");
label("PGV [cm/s]", 43, 177, 20, sans, "middle", -90);

// magnitude legend
var legendX = [209, 284, 369];
var legend = svg.selectAll("g.leg")
    .data(magLegend)
    .enter()
    .append("g")
    .attr("class", "leg")
    .attr("transform", (d, i) => "translate(" + legendX[i] + ",454)");
legend.append("circle")
    .attr("r", d => radius(d))
    .attr("fill", "#fff")
    .attr("stroke", "#777")
    .attr("stroke-width", 1);
legend.append("text")
    .attr("y", 5)
    .attr("font-family", serif)
    .attr("font-size", 15)
    .attr("fill", "#222")
    .attr("transform", "scale(" + stretch + ",1)")
    .attr("x", d => (radius(d) + 3) / stretch)
    .text(d => "M=" + d);

// colour bar
var cb = d3.scaleLinear().domain([0, 1000]).range([5, 666]);
var cbTop = 489, cbH = 14;
var grad = svg.select("defs").append("linearGradient").attr("id", "distgrad");
grad.selectAll("stop")
    .data(distTicks)
    .enter()
    .append("stop")
    .attr("offset", d => (d / 1000 * 100) + "%")
    .attr("stop-color", d => color(d));
svg.append("rect")
    .attr("x", cb(0)).attr("y", cbTop)
    .attr("width", cb(1000) - cb(0)).attr("height", cbH)
    .attr("fill", "url(#distgrad)");
svg.selectAll("line.cbsep")
    .data(distTicks.slice(1, -1))
    .enter()
    .append("line")
    .attr("class", "cbsep")
    .attr("x1", d => cb(d)).attr("x2", d => cb(d))
    .attr("y1", cbTop).attr("y2", cbTop + cbH)
    .attr("stroke", "#333").attr("stroke-width", 0.8).attr("opacity", 0.7);
svg.append("rect")
    .attr("x", cb(0)).attr("y", cbTop)
    .attr("width", cb(1000) - cb(0)).attr("height", cbH)
    .attr("fill", "none").attr("stroke", "#000").attr("stroke-width", 1.2);
svg.append("g").attr("transform", "translate(0," + (cbTop + cbH) + ")")
    .call(d3.axisBottom(cb).tickValues(distTicks).tickSize(5).tickPadding(6)
        .tickFormat(d3.format("d")))
    .call(styleTicks);

label("Distance (km)", 336, 547, 18, sans, "middle");
</script>
</body>
</html>
